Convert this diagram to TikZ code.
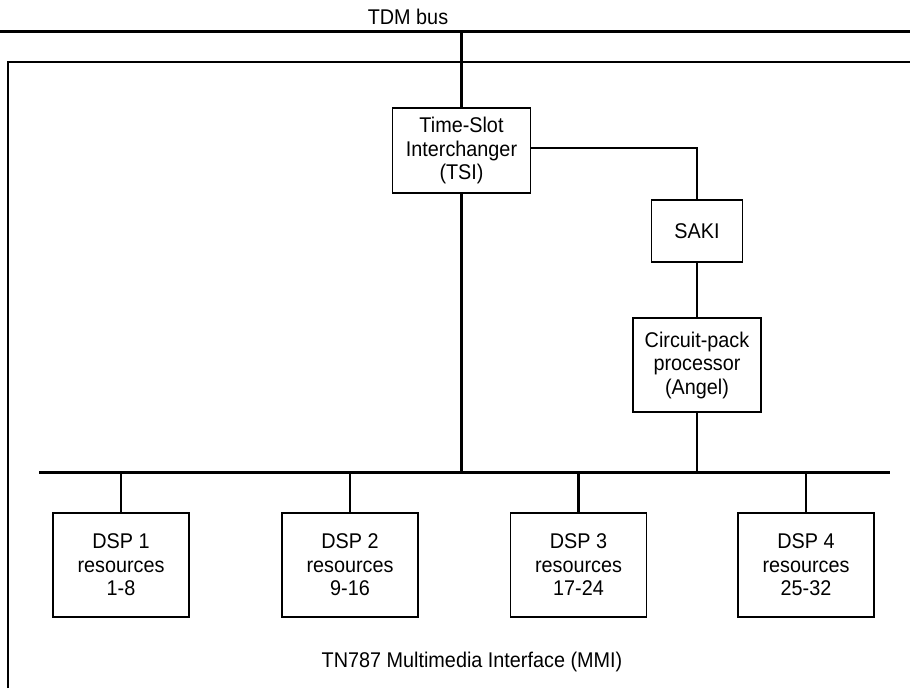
\documentclass[tikz,border=0pt]{standalone}
\usepackage{fontspec}
\setmainfont{Liberation Sans}[FakeStretch=0.93]
\begin{document}
\begin{tikzpicture}[x=1pt,y=-1pt,
  lbl/.style={font=\fontsize{21.3}{23.5}\selectfont, align=center, inner sep=0pt},
  box/.style={lbl, draw, line width=1.2pt},
  bus/.style={line width=3pt},
  wire/.style={line width=2.8pt},
  frame/.style={line width=1.2pt}]
\useasboundingbox (0,0) rectangle (910,688);
% buses
\coordinate (tl) at (0,31);
\coordinate (tr) at (910,31);
\coordinate (dl) at (39,472);
\coordinate (dr) at (890,472);
\draw[bus] (tl) -- (tr);
\draw[bus] (dl) -- (dr);
\node[lbl] (tdm) at (408,17) {TDM bus};
% frame
\coordinate (fb) at (8,688);
\coordinate (ftl) at (8,62);
\coordinate (ftr) at (910,62);
\draw[frame] (fb) -- (ftl) -- (ftr);
% boxes
\node[box, minimum width=138, minimum height=85] (tsi) at (461.5,150.5) {Time-Slot\\Interchanger\\(TSI)};
\node[box, minimum width=91, minimum height=62] (saki) at (697,231) {SAKI};
\node[box, minimum width=128, minimum height=94] (angel) at (697,365) {Circuit-pack\\processor\\(Angel)};
\node[box, minimum width=136, minimum height=104] (d1) at (121,565) {DSP 1\\resources\\1-8};
\node[box, minimum width=136, minimum height=104] (d2) at (350,565) {DSP 2\\resources\\9-16};
\node[box, minimum width=136, minimum height=104] (d3) at (578.5,565) {DSP 3\\resources\\17-24};
\node[box, minimum width=136, minimum height=104] (d4) at (806,565) {DSP 4\\resources\\25-32};
\node[lbl] (mmi) at (472,662) {TN787 Multimedia Interface (MMI)};
% connectors
\draw[wire] (tsi.north) -- (tsi.north |- tl);
\draw[wire] (tsi.south) -- (tsi.south |- dl);
\draw[wire] (tsi.east |- 0,148) -| (saki.north);
\draw[wire] (saki.south) -- (angel.north);
\draw[wire] (angel.south) -- (angel.south |- dl);
\foreach \d in {d1,d2,d3,d4}
  \draw[wire] (\d.north) -- (\d.north |- dl);
\end{tikzpicture}
\end{document}
